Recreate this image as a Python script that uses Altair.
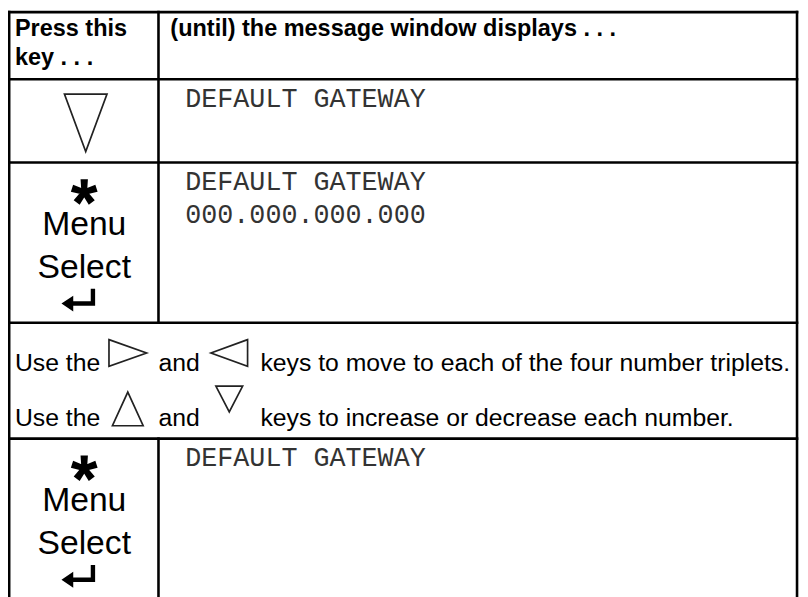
import math
import altair as alt
import pandas as pd

# ---------------- content ----------------
header_key = ["Press this", "key . . ."]
header_msg = ["(until) the message window displays . . ."]
msg_rows = [
    ["DEFAULT GATEWAY"],
    ["DEFAULT GATEWAY", "000.000.000.000"],
    ["DEFAULT GATEWAY"],
]
key_words = ["Menu", "Select"]
instr_words = [
    ["Use the", "and", "keys to move to each of the four number triplets."],
    ["Use the", "and", "keys to increase or decrease each number."],
]
instr_keys = [["right", "left"], ["up", "down"]]
row_keys = ["down", "menu", "menu"]   # key pictured in each message row

# ---------------- layout (reference pixels) ----------------
X_LEFT, X_DIV, X_RIGHT = 9.2, 160, 805
Y_TOP, Y_BOT = 9.2, 605
ROW_LINES = [77, 161, 323, 440]
MSG_ROW_TOPS = [77, 161, 440]
SPAN_TOP = 323
KEY_CX = 85
MSG_X = 187
LINE_GAP = 33
INSTR_X = [15, 160, 263]
INSTR_SHAPE_X = [129, 231.5]
INSTR_BASE = [49, 104]

# shape geometries (w, h, dy from text baseline)
TRI = {
    "right": (38, 27, -18.5),
    "left": (37, 27, -18.5),
    "up": (31, 34, -17),
    "down": (27, 26, -27),
}


def tri_path(kind, w, h):
    s = max(w, h) / 2.0
    a, b = w / (2 * s), h / (2 * s)
    if kind == "down":
        pts = [(-a, -b), (a, -b), (0, b)]
    elif kind == "up":
        pts = [(-a, b), (a, b), (0, -b)]
    elif kind == "right":
        pts = [(-a, -b), (a, 0), (-a, b)]
    else:
        pts = [(a, -b), (-a, 0), (a, b)]
    return "M" + "L".join(f"{x:.3f},{y:.3f}" for x, y in pts) + "Z", (2 * s) ** 2


def star_path(w=0.22):
    parts = []
    for deg in [90, 18, -54, -126, 162]:
        t = math.radians(deg)
        dx, dy = math.cos(t), -math.sin(t)
        nx, ny = -dy, dx
        pts = [(nx * w, ny * w), (dx + nx * w * 1.3, dy + ny * w * 1.3),
               (dx - nx * w * 1.3, dy - ny * w * 1.3), (-nx * w, -ny * w)]
        parts.append("M" + "L".join(f"{x:.3f},{y:.3f}" for x, y in pts) + "Z")
    return "".join(parts)


ARROW = ("M1,-0.67L1,0.34L-0.3,0.34L-0.3,0.68L-1,0.21L-0.3,-0.26"
         "L-0.3,0.08L0.74,0.08L0.74,-0.67Z")

# ---------------- tables ----------------
rules = [dict(x=X_LEFT, x2=X_RIGHT, y=Y_TOP, y2=Y_TOP),
         dict(x=X_LEFT, x2=X_LEFT, y=Y_TOP, y2=Y_BOT),
         dict(x=X_RIGHT, x2=X_RIGHT, y=Y_TOP, y2=Y_BOT),
         dict(x=X_DIV, x2=X_DIV, y=Y_TOP, y2=ROW_LINES[2]),
         dict(x=X_DIV, x2=X_DIV, y=ROW_LINES[3], y2=Y_BOT)]
rules += [dict(x=X_LEFT, x2=X_RIGHT, y=y, y2=y) for y in ROW_LINES]
rules_df = pd.DataFrame(rules)

header_df = pd.DataFrame(
    [dict(x=15, y=33 + 30 * i, t=s) for i, s in enumerate(header_key)]
    + [dict(x=172, y=33, t=header_msg[0])])

mono_df = pd.DataFrame([
    dict(x=MSG_X, y=top + 28 + LINE_GAP * j, t=s)
    for top, lines in zip(MSG_ROW_TOPS, msg_rows) for j, s in enumerate(lines)])

key_df = pd.DataFrame([
    dict(x=KEY_CX, y=top + off, t=w)
    for top, key in zip(MSG_ROW_TOPS, row_keys) if key == "menu"
    for w, off in zip(key_words, [73.5, 116.5])])

instr_df = pd.DataFrame([
    dict(x=INSTR_X[k], y=SPAN_TOP + INSTR_BASE[i], t=s)
    for i, words in enumerate(instr_words) for k, s in enumerate(words)])

outline = []
for top, key in zip(MSG_ROW_TOPS, row_keys):
    if key == "down":
        p, sz = tri_path("down", 43, 58)
        outline.append(dict(x=86.5, y=top + 44, shape=p, size=sz))
for i, keys in enumerate(instr_keys):
    for k, kind in enumerate(keys):
        w, h, dy = TRI[kind]
        p, sz = tri_path(kind, w, h)
        outline.append(dict(x=INSTR_SHAPE_X[k], y=SPAN_TOP + INSTR_BASE[i] + dy,
                            shape=p, size=sz))
outline_df = pd.DataFrame(outline)

filled = []
for top, key in zip(MSG_ROW_TOPS, row_keys):
    if key == "menu":
        filled.append(dict(x=KEY_CX, y=top + 30, shape=star_path(), size=26 ** 2))
        filled.append(dict(x=KEY_CX - 6, y=top + 139, shape=ARROW, size=34 ** 2))
filled_df = pd.DataFrame(filled)

# ---------------- chart ----------------
xs = alt.Scale(domain=[8, 808], nice=False, zero=False)
ys = alt.Scale(domain=[8, 597], nice=False, zero=False, reverse=True)
X = alt.X("x:Q", scale=xs, axis=None)
Y = alt.Y("y:Q", scale=ys, axis=None)

rule_layer = alt.Chart(rules_df).mark_rule(
    color="black", strokeWidth=2.6, strokeCap="square").encode(
    x=X, x2="x2:Q", y=Y, y2="y2:Q")


def text_layer(df, **kw):
    return alt.Chart(df).mark_text(baseline="alphabetic", **kw).encode(
        x=X, y=Y, text="t:N")


header_layer = text_layer(header_df, align="left", font="Liberation Sans",
                          fontWeight="bold", fontSize=23.7, color="black")
mono_layer = text_layer(mono_df, align="left", font="Liberation Mono",
                        fontSize=27, color="#333333")
key_layer = text_layer(key_df, align="center", font="Liberation Sans",
                       fontSize=34, color="black")
instr_layer = text_layer(instr_df, align="left", font="Liberation Sans",
                         fontSize=25, color="black")

outline_layer = alt.Chart(outline_df).mark_point(
    filled=False, color="#222222", strokeWidth=1.7, opacity=1).encode(
    x=X, y=Y, shape=alt.Shape("shape:N", scale=None),
    size=alt.Size("size:Q", scale=None))

filled_layer = alt.Chart(filled_df).mark_point(
    filled=True, color="black", opacity=1, strokeWidth=0).encode(
    x=X, y=Y, shape=alt.Shape("shape:N", scale=None),
    size=alt.Size("size:Q", scale=None))

chart = alt.layer(
    rule_layer, header_layer, mono_layer, key_layer, instr_layer,
    outline_layer, filled_layer,
).properties(
    width=800, height=589, autosize=alt.AutoSizeParams(type="none"),
    padding=0,
).configure_view(stroke=None)

chart.save("out.html", embed_options={"renderer": "svg", "actions": False})
